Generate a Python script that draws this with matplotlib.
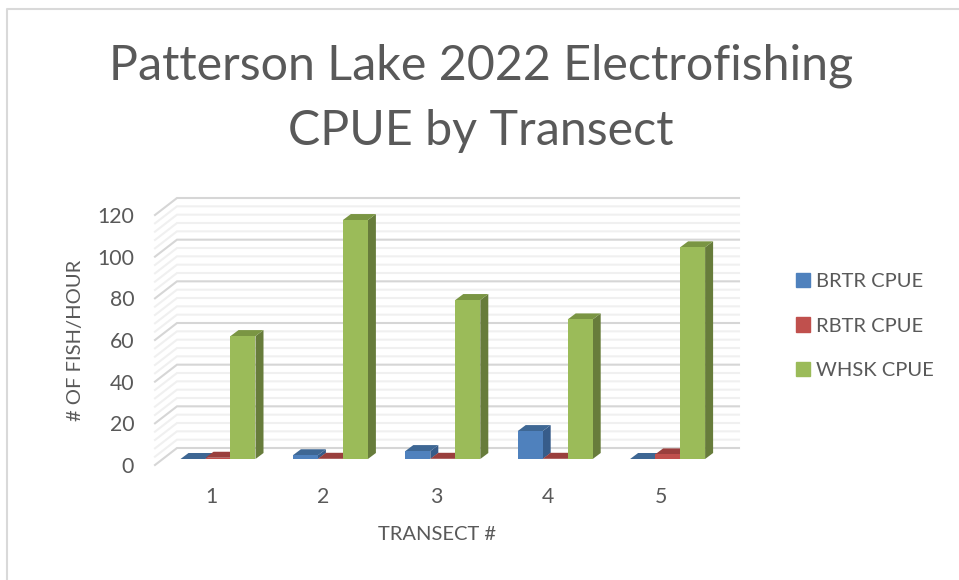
import matplotlib
matplotlib.use("Agg")
import matplotlib.pyplot as plt
from matplotlib.patches import Patch
from matplotlib.lines import Line2D

categories = [1, 2, 3, 4, 5]
series_names = ["BRTR CPUE", "RBTR CPUE", "WHSK CPUE"]
brtr = [0, 1.8, 3.8, 13.4, 0]
rbtr = [0.6, 0.1, 0.1, 0.1, 2.2]
whsk = [59, 114.7, 76.3, 67, 101.6]
title = "Patterson Lake 2022 Electrofishing\nCPUE by Transect"
y_ticks = [0, 20, 40, 60, 80, 100, 120]

W, H = 959, 580
plt.rcParams['font.family'] = ['Lato', 'DejaVu Sans']
TXT = '#595959'
fig = plt.figure(figsize=(W / 100, H / 100), dpi=100, facecolor='white')
ax = fig.add_axes([155 / W, 1 - 465 / H, (739 - 155) / W, (465 - 198) / H])
PX = 112.4        # px per category
PY = 250 / 120    # px per value unit
ax.set_xlim(1 - 56 / PX, 1 + 528 / PX)
ax.set_ylim(0, 267 / PY)
ax.patch.set_visible(False)
for s in ax.spines.values():
    s.set_visible(False)

# walls
wall_x, wall_y = 22 / PX, 17 / PY
x0, x1 = ax.get_xlim()
for g in range(0, 121, 4):
    major = g % 20 == 0
    c = '#d6d6d6' if major else '#f0f0f0'
    ax.plot([x0, x0 + wall_x, x1], [g, g + wall_y, g + wall_y], color=c, lw=1.5,
            clip_on=False, zorder=1, solid_joinstyle='miter')

# bars
dx, dy = 8 / PX, 6 / PY
bw = 25 / PX
shift = 7 / PX
front = ['#4F81BD', '#C0504D', '#9BBB59']
side = ['#375C8A', '#8C3A38', '#677C3B']
top = ['#3E6794', '#9A3F3D', '#7A9543']
z = 3
for k, vals in enumerate([brtr, rbtr, whsk]):
    for c, v in zip(categories, vals):
        left = c + shift + (k - 1.5) * bw
        right = left + bw
        b = dy + v
        ax.fill([right, right + dx, right + dx, right],
                [dy, 2 * dy, b + dy, b], color=side[k], lw=0, zorder=z, clip_on=False)
        ax.fill([left, right, right + dx, left + dx],
                [b, b, b + dy, b + dy], color=top[k], lw=0, zorder=z, clip_on=False)
        ax.bar(left, v, width=bw, bottom=dy, align='edge', color=front[k], lw=0,
               zorder=z + 0.5, clip_on=False)
    z += 1

ax.set_xticks(categories)
ax.set_yticks(y_ticks)
ax.tick_params(length=0, labelsize=15.3, labelcolor=TXT)
ax.tick_params(axis='x', pad=16)
ax.tick_params(axis='y', pad=15)

fig.text(437 / W, 1 - 534 / H, "TRANSECT #", ha='center', va='center', fontsize=14.5, color=TXT)
fig.text(75 / W, 1 - 340 / H, "# OF FISH/HOUR", rotation=90, ha='center', va='center',
         fontsize=14.5, color=TXT)
fig.text(481 / W, 1 - 98 / H, title, ha='center', va='center', fontsize=34.8, color=TXT,
         linespacing=1.59)

handles = [Patch(color=c) for c in front]
fig.legend(handles, series_names, loc='center left', bbox_to_anchor=(778 / W, 1 - 326 / H),
           frameon=False, fontsize=14.5, labelcolor=TXT, handlelength=0.7, handleheight=0.7,
           handletextpad=0.3, labelspacing=1.38)

# chart border
fig.add_artist(Line2D([6.5 / W, 6.5 / W, 1], [0, 1 - 8.5 / H, 1 - 8.5 / H],
                      color='#d9d9d9', lw=1.5, transform=fig.transFigure))
fig.savefig("out.png", dpi=100)
